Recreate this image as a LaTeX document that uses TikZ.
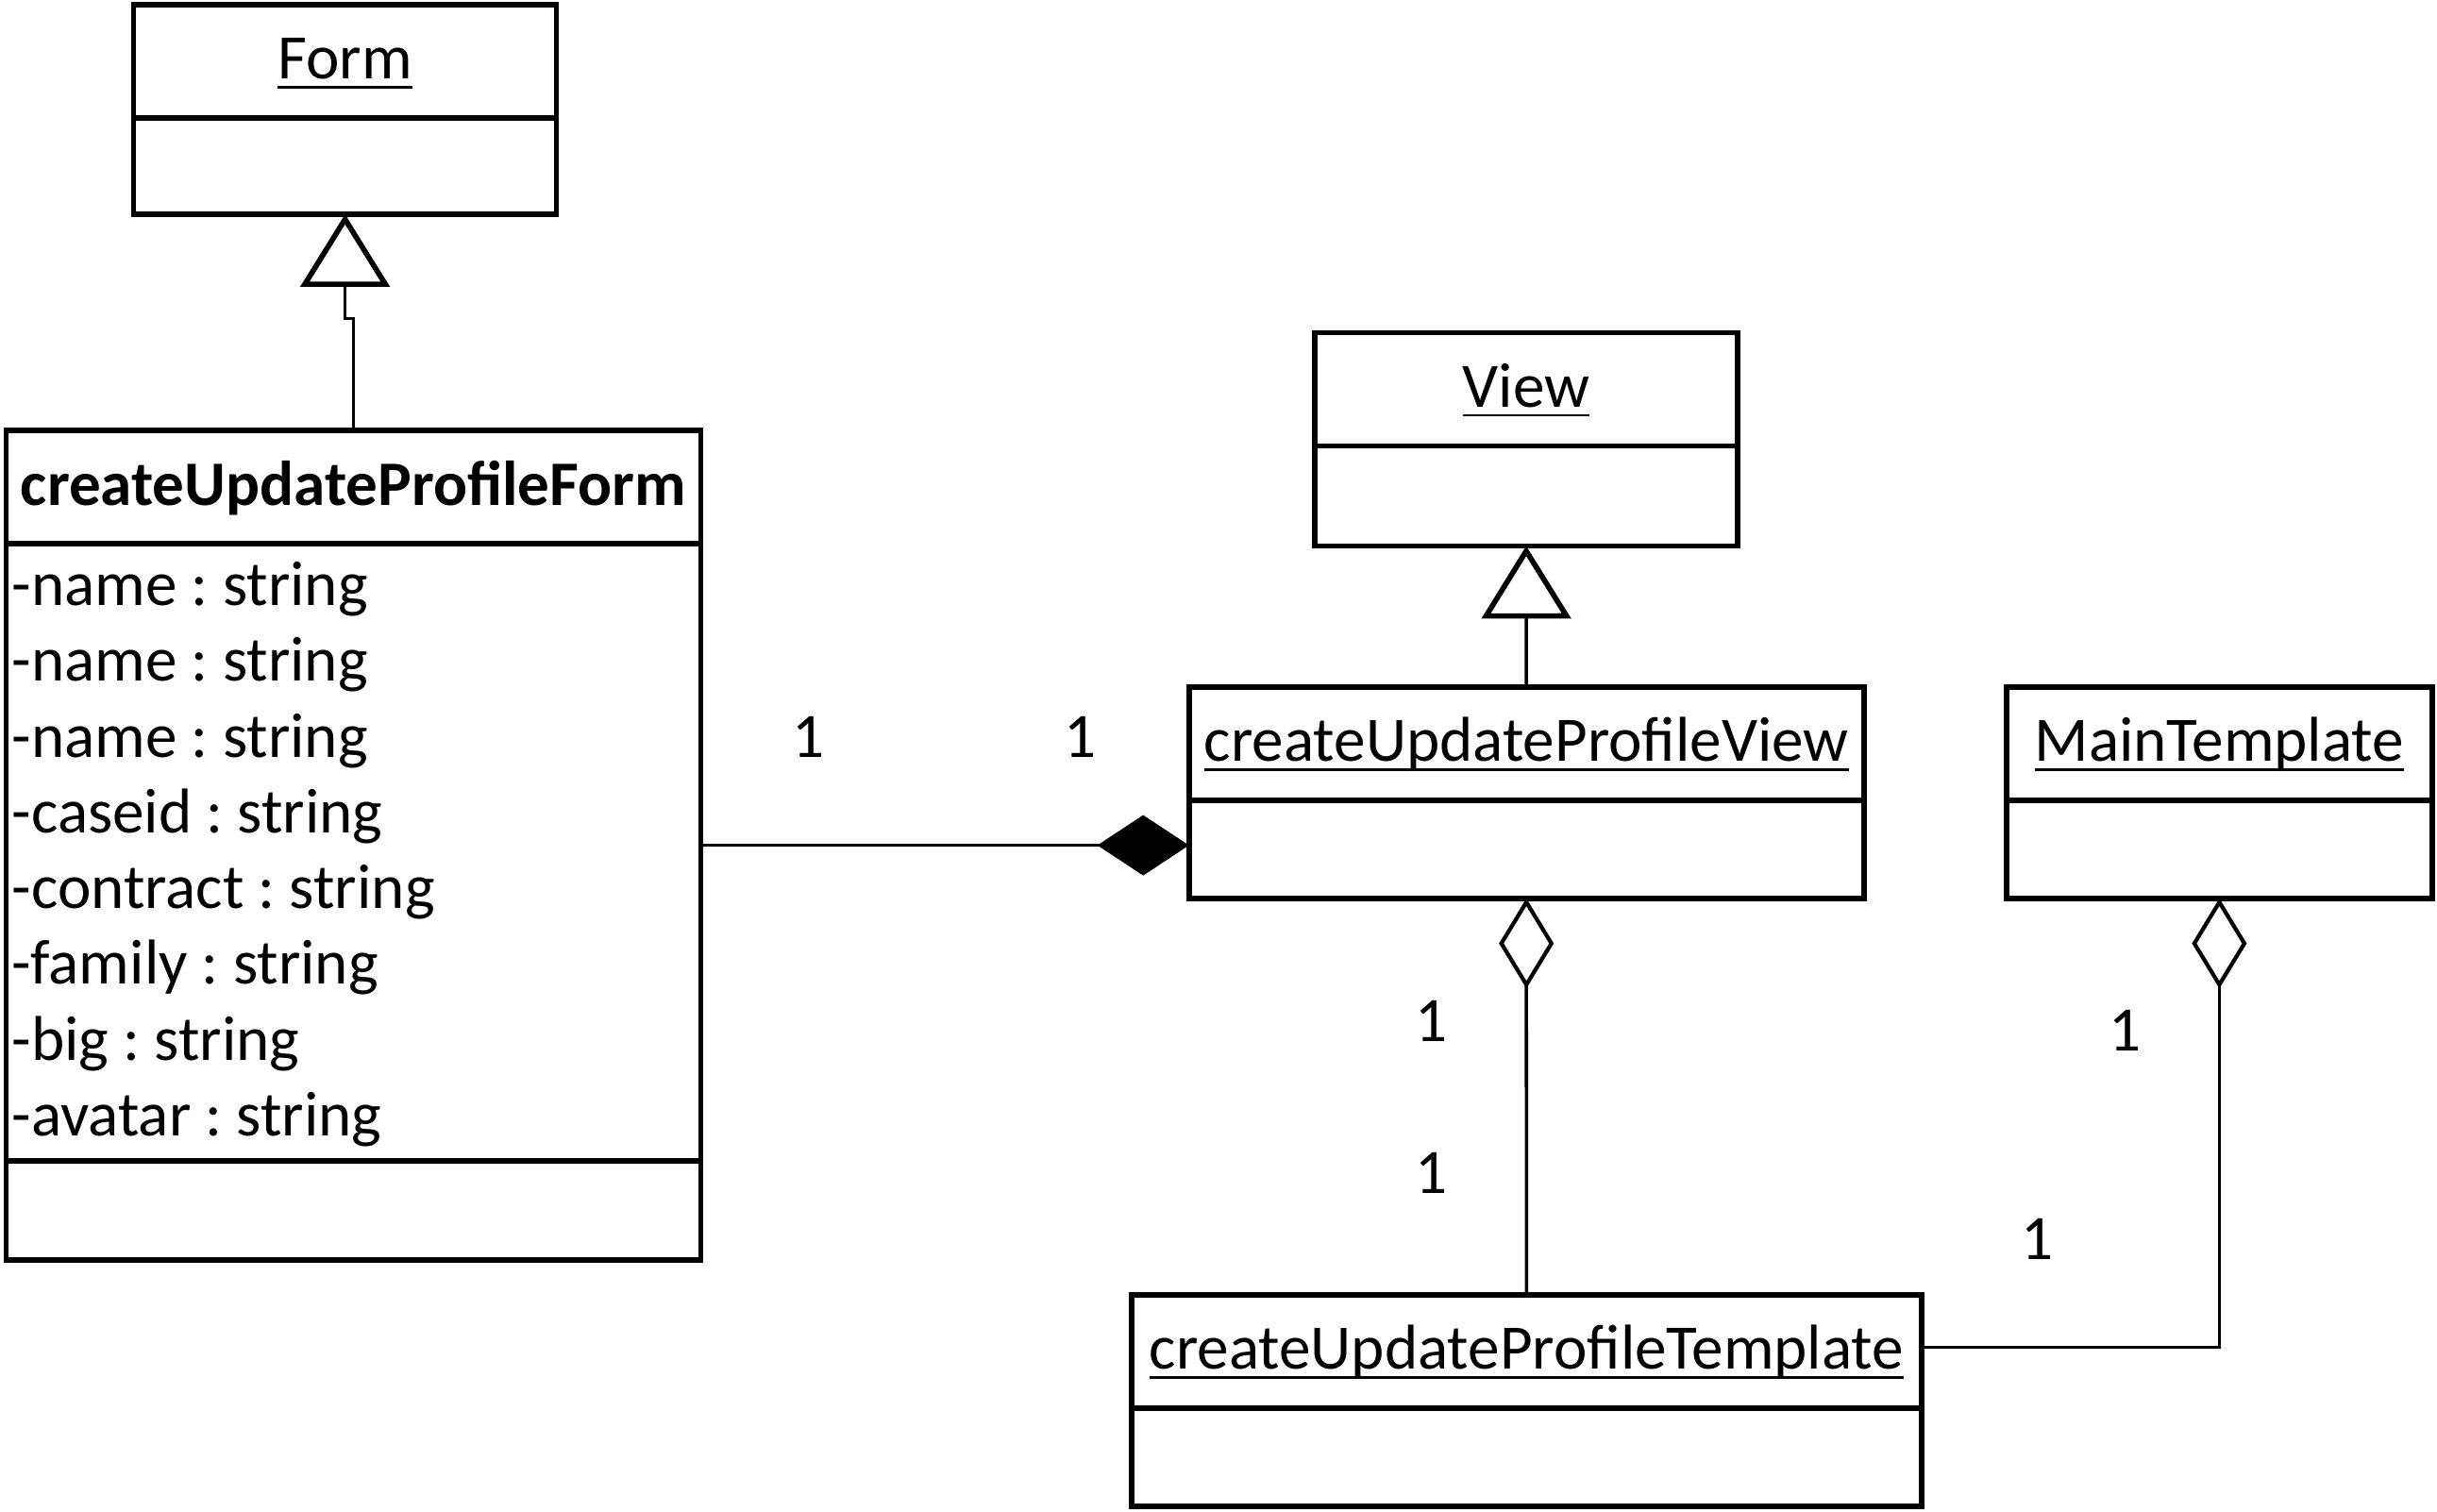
\documentclass[tikz,border=0pt]{standalone}
\usepackage{fontspec}
\setmainfont{Carlito}
\usepackage{tikz}
\usetikzlibrary{positioning,calc,arrows.meta}
\frenchspacing

% underlined class name
\newcommand{\ulined}[1]{\setbox0\hbox{#1}\rlap{\rule[-2.8pt]{\wd0}{0.75pt}}\box0}

\tikzset{
    classbox/.style={draw, line width=1.6pt, rectangle, anchor=north west, inner sep=0pt, outer sep=0pt},
    classname/.style={anchor=base, inner sep=0pt, font=\fontsize{19.1}{23}\selectfont},
    attr/.style={anchor=base west, inner sep=0pt, font=\fontsize{19.1}{23}\selectfont},
    mult/.style={inner sep=0pt, font=\fontsize{19.1}{23}\selectfont},
    divider/.style={line width=1.6pt},
    connector/.style={line width=1pt},
    inherit/.style={-{Triangle[open, length=0.77cm, width=0.94cm, line width=1.6pt]}},
    composite/.style={-{Diamond[length=0.97cm, width=0.64cm]}},
    aggregate/.style={-{Diamond[open, length=0.955cm, width=0.58cm, line width=1.2pt]}}
}

\begin{document}
\begin{tikzpicture}
        \useasboundingbox (0,0) rectangle (25.82,-16.01);

        % Class boxes
        \node[classbox, minimum width=4.48cm, minimum height=2.22cm] (form) at (1.416,-0.049) {};
        \node[classbox, minimum width=7.36cm, minimum height=8.79cm] (cupform) at (0.066,-4.561) {};
        \node[classbox, minimum width=4.48cm, minimum height=2.26cm] (view) at (13.93,-3.524) {};
        \node[classbox, minimum width=7.15cm, minimum height=2.24cm] (cupview) at (12.597,-7.278) {};
        \node[classbox, minimum width=4.51cm, minimum height=2.24cm] (maintpl) at (21.259,-7.278) {};
        \node[classbox, minimum width=8.37cm, minimum height=2.24cm] (cuptpl) at (11.988,-13.717) {};

        % Compartment lines
        \foreach \cls in {form,cupform,view,cupview,maintpl,cuptpl}
            \draw[divider] ($(\cls.north west)+(0,-1.2)$) -- ($(\cls.north east)+(0,-1.2)$);
        \draw[divider] ($(cupform.south west)+(0,1.054)$) -- ($(cupform.south east)+(0,1.054)$);

        % Class names
        \node[classname] (formname) at ($(form.north)+(0,-0.79)$) {\ulined{Form}};
        \node[classname] (cupformname) at ($(cupform.north)+(0,-0.79)$) {\textbf{createUpdateProfileForm}};
        \node[classname] (viewname) at ($(view.north)+(0,-0.79)$) {\ulined{View}};
        \node[classname] (cupviewname) at ($(cupview.north)+(0,-0.79)$) {\ulined{createUpdateProfileView}};
        \node[classname] (maintplname) at ($(maintpl.north)+(0,-0.79)$) {\ulined{MainTemplate}};
        \node[classname] (cuptplname) at ($(cuptpl.north)+(0,-0.79)$) {\ulined{createUpdateProfileTemplate}};

        % Attributes of the form
        \foreach \attrtext [count=\i] in {-name : string,-name : string,-name : string,-caseid : string,
                -contract : string,-family : string,-big : string,-avatar : string}
            \node[attr] (attr\i) at (0.12, {-6.414-0.803*(\i-1)}) {\attrtext};

        % Generalisations
        \draw[connector, inherit] (cupform.north) -- ++(0,1.185) -| (form.south);
        \draw[connector, inherit] (cupview.north) -- (view.south);

        % Composition and aggregations
        \draw[connector, composite] (cupform.east) -- (cupform.east -| cupview.west);
        \draw[connector, aggregate] (cuptpl.north) -- (cupview.south);
        \draw[connector, aggregate] ([yshift=0.56cm]cuptpl.east) -| (maintpl.south);

        % Multiplicities
        \node[mult] (m1) at (8.563,-7.805) {1};
        \node[mult] (m2) at (11.445,-7.805) {1};
        \node[mult] (m3) at (15.166,-10.819) {1};
        \node[mult] (m4) at (15.166,-12.433) {1};
        \node[mult] (m5) at (22.51,-10.918) {1};
        \node[mult] (m6) at (21.588,-13.124) {1};

    \end{tikzpicture}
\end{document}
